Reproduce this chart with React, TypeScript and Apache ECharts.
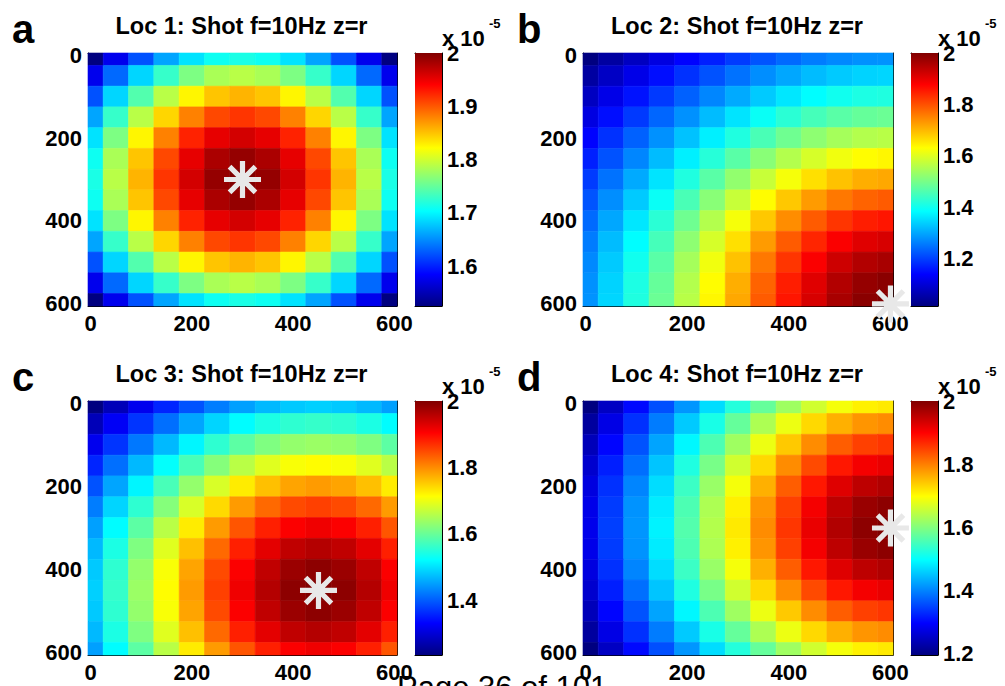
import React, { useEffect, useRef } from "react";
import * as echarts from "echarts";

// grid sample positions (m)
const GRID_X = [0, 50, 100, 150, 200, 250, 300, 350, 400, 450, 500, 550, 600];
const GRID_Y = [0, 50, 100, 150, 200, 250, 300, 350, 400, 450, 500, 550, 600];
const AXIS_TICKS = [0, 200, 400, 600];

// values in units of 1e-5, rows = y (0 at top), columns = x
const LOC1: number[][] = [
  [1.525, 1.576, 1.622, 1.661, 1.690, 1.709, 1.715, 1.709, 1.690, 1.661, 1.622, 1.576, 1.525],
  [1.576, 1.633, 1.684, 1.728, 1.761, 1.782, 1.789, 1.782, 1.761, 1.728, 1.684, 1.633, 1.576],
  [1.622, 1.684, 1.741, 1.789, 1.826, 1.849, 1.857, 1.849, 1.826, 1.789, 1.741, 1.684, 1.622],
  [1.661, 1.728, 1.789, 1.841, 1.881, 1.907, 1.916, 1.907, 1.881, 1.841, 1.789, 1.728, 1.661],
  [1.690, 1.761, 1.826, 1.881, 1.925, 1.952, 1.961, 1.952, 1.925, 1.881, 1.826, 1.761, 1.690],
  [1.709, 1.782, 1.849, 1.907, 1.952, 1.980, 1.990, 1.980, 1.952, 1.907, 1.849, 1.782, 1.709],
  [1.715, 1.789, 1.857, 1.916, 1.961, 1.990, 2.000, 1.990, 1.961, 1.916, 1.857, 1.789, 1.715],
  [1.709, 1.782, 1.849, 1.907, 1.952, 1.980, 1.990, 1.980, 1.952, 1.907, 1.849, 1.782, 1.709],
  [1.690, 1.761, 1.826, 1.881, 1.925, 1.952, 1.961, 1.952, 1.925, 1.881, 1.826, 1.761, 1.690],
  [1.661, 1.728, 1.789, 1.841, 1.881, 1.907, 1.916, 1.907, 1.881, 1.841, 1.789, 1.728, 1.661],
  [1.622, 1.684, 1.741, 1.789, 1.826, 1.849, 1.857, 1.849, 1.826, 1.789, 1.741, 1.684, 1.622],
  [1.576, 1.633, 1.684, 1.728, 1.761, 1.782, 1.789, 1.782, 1.761, 1.728, 1.684, 1.633, 1.576],
  [1.525, 1.576, 1.622, 1.661, 1.690, 1.709, 1.715, 1.709, 1.690, 1.661, 1.622, 1.576, 1.525],
];

const LOC2: number[][] = [
  [1.015, 1.047, 1.078, 1.109, 1.140, 1.168, 1.195, 1.219, 1.240, 1.257, 1.270, 1.278, 1.280],
  [1.047, 1.082, 1.116, 1.151, 1.185, 1.217, 1.248, 1.275, 1.299, 1.319, 1.333, 1.342, 1.345],
  [1.078, 1.116, 1.155, 1.193, 1.231, 1.267, 1.302, 1.333, 1.361, 1.383, 1.400, 1.411, 1.414],
  [1.109, 1.151, 1.193, 1.236, 1.278, 1.319, 1.358, 1.393, 1.425, 1.451, 1.470, 1.482, 1.487],
  [1.140, 1.185, 1.231, 1.278, 1.325, 1.370, 1.414, 1.455, 1.491, 1.521, 1.543, 1.557, 1.562],
  [1.168, 1.217, 1.267, 1.319, 1.370, 1.421, 1.470, 1.516, 1.557, 1.591, 1.617, 1.633, 1.638],
  [1.195, 1.248, 1.302, 1.358, 1.414, 1.470, 1.525, 1.576, 1.622, 1.661, 1.690, 1.709, 1.715],
  [1.219, 1.275, 1.333, 1.393, 1.455, 1.516, 1.576, 1.633, 1.684, 1.728, 1.761, 1.782, 1.789],
  [1.240, 1.299, 1.361, 1.425, 1.491, 1.557, 1.622, 1.684, 1.741, 1.789, 1.826, 1.849, 1.857],
  [1.257, 1.319, 1.383, 1.451, 1.521, 1.591, 1.661, 1.728, 1.789, 1.841, 1.881, 1.907, 1.916],
  [1.270, 1.333, 1.400, 1.470, 1.543, 1.617, 1.690, 1.761, 1.826, 1.881, 1.925, 1.952, 1.961],
  [1.278, 1.342, 1.411, 1.482, 1.557, 1.633, 1.709, 1.782, 1.849, 1.907, 1.952, 1.980, 1.990],
  [1.280, 1.345, 1.414, 1.487, 1.562, 1.638, 1.715, 1.789, 1.857, 1.916, 1.961, 1.990, 2.000],
];

const LOC3: number[][] = [
  [1.236, 1.278, 1.319, 1.358, 1.393, 1.425, 1.451, 1.470, 1.482, 1.487, 1.482, 1.470, 1.451],
  [1.278, 1.325, 1.370, 1.414, 1.455, 1.491, 1.521, 1.543, 1.557, 1.562, 1.557, 1.543, 1.521],
  [1.319, 1.370, 1.421, 1.470, 1.516, 1.557, 1.591, 1.617, 1.633, 1.638, 1.633, 1.617, 1.591],
  [1.358, 1.414, 1.470, 1.525, 1.576, 1.622, 1.661, 1.690, 1.709, 1.715, 1.709, 1.690, 1.661],
  [1.393, 1.455, 1.516, 1.576, 1.633, 1.684, 1.728, 1.761, 1.782, 1.789, 1.782, 1.761, 1.728],
  [1.425, 1.491, 1.557, 1.622, 1.684, 1.741, 1.789, 1.826, 1.849, 1.857, 1.849, 1.826, 1.789],
  [1.451, 1.521, 1.591, 1.661, 1.728, 1.789, 1.841, 1.881, 1.907, 1.916, 1.907, 1.881, 1.841],
  [1.470, 1.543, 1.617, 1.690, 1.761, 1.826, 1.881, 1.925, 1.952, 1.961, 1.952, 1.925, 1.881],
  [1.482, 1.557, 1.633, 1.709, 1.782, 1.849, 1.907, 1.952, 1.980, 1.990, 1.980, 1.952, 1.907],
  [1.487, 1.562, 1.638, 1.715, 1.789, 1.857, 1.916, 1.961, 1.990, 2.000, 1.990, 1.961, 1.916],
  [1.482, 1.557, 1.633, 1.709, 1.782, 1.849, 1.907, 1.952, 1.980, 1.990, 1.980, 1.952, 1.907],
  [1.470, 1.543, 1.617, 1.690, 1.761, 1.826, 1.881, 1.925, 1.952, 1.961, 1.952, 1.925, 1.881],
  [1.451, 1.521, 1.591, 1.661, 1.728, 1.789, 1.841, 1.881, 1.907, 1.916, 1.907, 1.881, 1.841],
];

const LOC4: number[][] = [
  [1.195, 1.248, 1.302, 1.358, 1.414, 1.470, 1.525, 1.576, 1.622, 1.661, 1.690, 1.709, 1.715],
  [1.219, 1.275, 1.333, 1.393, 1.455, 1.516, 1.576, 1.633, 1.684, 1.728, 1.761, 1.782, 1.789],
  [1.240, 1.299, 1.361, 1.425, 1.491, 1.557, 1.622, 1.684, 1.741, 1.789, 1.826, 1.849, 1.857],
  [1.257, 1.319, 1.383, 1.451, 1.521, 1.591, 1.661, 1.728, 1.789, 1.841, 1.881, 1.907, 1.916],
  [1.270, 1.333, 1.400, 1.470, 1.543, 1.617, 1.690, 1.761, 1.826, 1.881, 1.925, 1.952, 1.961],
  [1.278, 1.342, 1.411, 1.482, 1.557, 1.633, 1.709, 1.782, 1.849, 1.907, 1.952, 1.980, 1.990],
  [1.280, 1.345, 1.414, 1.487, 1.562, 1.638, 1.715, 1.789, 1.857, 1.916, 1.961, 1.990, 2.000],
  [1.278, 1.342, 1.411, 1.482, 1.557, 1.633, 1.709, 1.782, 1.849, 1.907, 1.952, 1.980, 1.990],
  [1.270, 1.333, 1.400, 1.470, 1.543, 1.617, 1.690, 1.761, 1.826, 1.881, 1.925, 1.952, 1.961],
  [1.257, 1.319, 1.383, 1.451, 1.521, 1.591, 1.661, 1.728, 1.789, 1.841, 1.881, 1.907, 1.916],
  [1.240, 1.299, 1.361, 1.425, 1.491, 1.557, 1.622, 1.684, 1.741, 1.789, 1.826, 1.849, 1.857],
  [1.219, 1.275, 1.333, 1.393, 1.455, 1.516, 1.576, 1.633, 1.684, 1.728, 1.761, 1.782, 1.789],
  [1.195, 1.248, 1.302, 1.358, 1.414, 1.470, 1.525, 1.576, 1.622, 1.661, 1.690, 1.709, 1.715],
];

const FIELDS = [LOC1, LOC2, LOC3, LOC4];
const SOURCES = [[300, 300], [600, 600], [450, 450], [600, 300]];
const CBAR_MIN = [1.525, 1.015, 1.236, 1.195];
const CBAR_MAX = [2.0, 2.0, 2.0, 2.0];
const CBAR_TICKS = [
  [1.6, 1.7, 1.8, 1.9, 2],
  [1.2, 1.4, 1.6, 1.8, 2],
  [1.4, 1.6, 1.8, 2],
  [1.2, 1.4, 1.6, 1.8, 2],
];
const TITLES = [
  "Loc 1: Shot f=10Hz z=r",
  "Loc 2: Shot f=10Hz z=r",
  "Loc 3: Shot f=10Hz z=r",
  "Loc 4: Shot f=10Hz z=r",
];
const LETTERS = ["a", "b", "c", "d"];
const SCALE_BASE = "x 10";
const SCALE_EXP = "-5";
const FOOTER = "Page 36 of 101";

const JET = ["#000080", "#0000FF", "#0080FF", "#00FFFF", "#80FF80", "#FFFF00", "#FF8000", "#FF0000", "#800000"];

const FONT = "'Liberation Sans', Arial, Helvetica, sans-serif";
const STAR =
  "path://M0,43H100V57H0Z M43,0H57V100H43Z M19.95,10.05L89.95,80.05L80.05,89.95L10.05,19.95Z M89.95,19.95L19.95,89.95L10.05,80.05L80.05,10.05Z";

// layout
const PANELS = [
  { left: 88, top: 53, w: 309, h: 253, cb: 415 },
  { left: 583, top: 53, w: 310, h: 253, cb: 911 },
  { left: 88, top: 401, w: 309, h: 254, cb: 415 },
  { left: 583, top: 401, w: 310, h: 254, cb: 911 },
];
const CB_W = 27;

export default function App() {
  const ref = useRef<HTMLDivElement>(null);

  useEffect(() => {
    if (!ref.current) return;
    const chart = echarts.init(ref.current, undefined, { renderer: "svg" });

    const grid: any[] = [];
    const xAxis: any[] = [];
    const yAxis: any[] = [];
    const series: any[] = [];
    const visualMap: any[] = [];
    const graphic: any[] = [];

    const lineStyle = { color: "#000", width: 1 };
    const labelStyle = { color: "#000", fontSize: 22, fontWeight: "bold", fontFamily: FONT };

    PANELS.forEach((P, p) => {
      const gMain = 2 * p;
      const gCb = 2 * p + 1;
      grid.push({ left: P.left, top: P.top, width: P.w, height: P.h, outerBoundsMode: "none" });
      grid.push({ left: P.cb, top: P.top, width: CB_W, height: P.h, outerBoundsMode: "none" });

      const mainAxis = (pos: string, showLabel: boolean, inverse = false) => ({
        type: "value",
        gridIndex: gMain,
        position: pos,
        min: -5,
        max: 605,
        inverse,
        axisLine: { show: true, onZero: false, lineStyle },
        axisTick: { show: true, inside: true, length: 4, customValues: AXIS_TICKS, lineStyle },
        axisLabel: { show: showLabel, customValues: AXIS_TICKS, margin: 6, ...labelStyle },
        splitLine: { show: false },
      });
      xAxis.push(mainAxis("bottom", true));
      xAxis.push(mainAxis("top", false));
      yAxis.push(mainAxis("left", true, true));
      yAxis.push(mainAxis("right", false, true));

      const cbX = (pos: string) => ({
        type: "value",
        gridIndex: gCb,
        position: pos,
        min: 0,
        max: 1,
        axisLine: { show: true, onZero: false, lineStyle },
        axisTick: { show: false },
        axisLabel: { show: false },
        splitLine: { show: false },
      });
      xAxis.push(cbX("bottom"));
      xAxis.push(cbX("top"));
      const cbY = (pos: string, showLabel: boolean) => ({
        type: "value",
        gridIndex: gCb,
        position: pos,
        min: CBAR_MIN[p],
        max: CBAR_MAX[p],
        axisLine: { show: true, onZero: false, lineStyle },
        axisTick: { show: true, inside: true, length: 4, customValues: CBAR_TICKS[p], lineStyle },
        axisLabel: {
          show: showLabel,
          customValues: CBAR_TICKS[p],
          margin: 5,
          formatter: (v: number) => String(Math.round(v * 10) / 10),
          ...labelStyle,
        },
        splitLine: { show: false },
      });
      yAxis.push(cbY("left", false));
      yAxis.push(cbY("right", true));

      const data: number[][] = [];
      FIELDS[p].forEach((row, j) => row.forEach((v, i) => data.push([GRID_X[i], GRID_Y[j], v])));
      const heatIdx = series.length;
      series.push({
        type: "custom",
        xAxisIndex: 4 * p,
        yAxisIndex: 4 * p,
        data,
        encode: { x: 0, y: 1 },
        z: 1,
        renderItem: (params: any, api: any) => {
          const x = api.value(0);
          const y = api.value(1);
          const a = api.coord([x - 25, y - 25]);
          const b = api.coord([x + 25, y + 25]);
          const cs = params.coordSys;
          const shape = echarts.graphic.clipRectByRect(
            {
              x: Math.min(a[0], b[0]),
              y: Math.min(a[1], b[1]),
              width: Math.abs(b[0] - a[0]),
              height: Math.abs(b[1] - a[1]),
            },
            { x: cs.x, y: cs.y, width: cs.width, height: cs.height }
          );
          if (!shape) return null;
          const c = api.visual("color");
          return { type: "rect", shape, style: { fill: c, stroke: c, lineWidth: 0.6 } };
        },
      });
      visualMap.push({
        type: "continuous",
        show: false,
        seriesIndex: heatIdx,
        dimension: 2,
        min: CBAR_MIN[p],
        max: CBAR_MAX[p],
        inRange: { color: JET },
      });
      series.push({
        type: "scatter",
        xAxisIndex: 4 * p,
        yAxisIndex: 4 * p,
        data: [SOURCES[p]],
        symbol: STAR,
        symbolSize: 37,
        clip: false,
        z: 5,
        itemStyle: { color: "#e8e8e8", opacity: 1 },
        silent: true,
      });
      series.push({
        type: "custom",
        xAxisIndex: 4 * p + 2,
        yAxisIndex: 4 * p + 2,
        data: [[0, CBAR_MIN[p], CBAR_MAX[p]]],
        z: 1,
        renderItem: (params: any, api: any) => {
          const top = api.coord([0, api.value(2)]);
          const bot = api.coord([1, api.value(1)]);
          const stops = JET.slice()
            .reverse()
            .map((c, i) => ({ offset: i / (JET.length - 1), color: c }));
          return {
            type: "rect",
            shape: { x: top[0], y: top[1], width: bot[0] - top[0], height: bot[1] - top[1] },
            style: { fill: new echarts.graphic.LinearGradient(0, 0, 0, 1, stops) },
          };
        },
      });

      // texts
      const dy = P.top - 53;
      graphic.push({
        type: "text",
        x: P.left + P.w / 2 - 1,
        y: 26 + dy,
        style: {
          text: TITLES[p],
          fontSize: 23.5,
          fontWeight: "bold",
          fontFamily: FONT,
          fill: "#000",
          textAlign: "center",
          textVerticalAlign: "middle",
        },
      });
      graphic.push({
        type: "text",
        x: 12 + (p % 2 === 1 ? 505 : 0),
        y: 29 + dy,
        style: {
          text: LETTERS[p],
          fontSize: 40,
          fontWeight: "bold",
          fontFamily: FONT,
          fill: "#000",
          textAlign: "left",
          textVerticalAlign: "middle",
        },
      });
      const cbdx = P.cb - 415;
      graphic.push({
        type: "text",
        x: 442 + cbdx,
        y: 38 + dy,
        style: {
          text: SCALE_BASE,
          fontSize: 22,
          fontWeight: "bold",
          fontFamily: FONT,
          fill: "#000",
          textAlign: "left",
          textVerticalAlign: "middle",
        },
      });
      graphic.push({
        type: "text",
        x: 489 + cbdx,
        y: 23 + dy,
        style: {
          text: SCALE_EXP,
          fontSize: 13,
          fontWeight: "bold",
          fontFamily: FONT,
          fill: "#000",
          textAlign: "left",
          textVerticalAlign: "middle",
        },
      });
    });

    graphic.push({
      type: "text",
      x: 397,
      y: 687,
      z: 100,
      style: {
        text: FOOTER,
        fontSize: 31,
        fontFamily: FONT,
        fill: "#000",
        textAlign: "left",
        textVerticalAlign: "middle",
      },
    });

    chart.setOption({
      animation: false,
      backgroundColor: "#fff",
      grid,
      xAxis,
      yAxis,
      visualMap,
      series,
      graphic,
    });

    return () => chart.dispose();
  }, []);

  return (
    <div
      ref={ref}
      style={{ position: "absolute", left: 0, top: 0, width: 1005, height: 686 }}
    />
  );
}
